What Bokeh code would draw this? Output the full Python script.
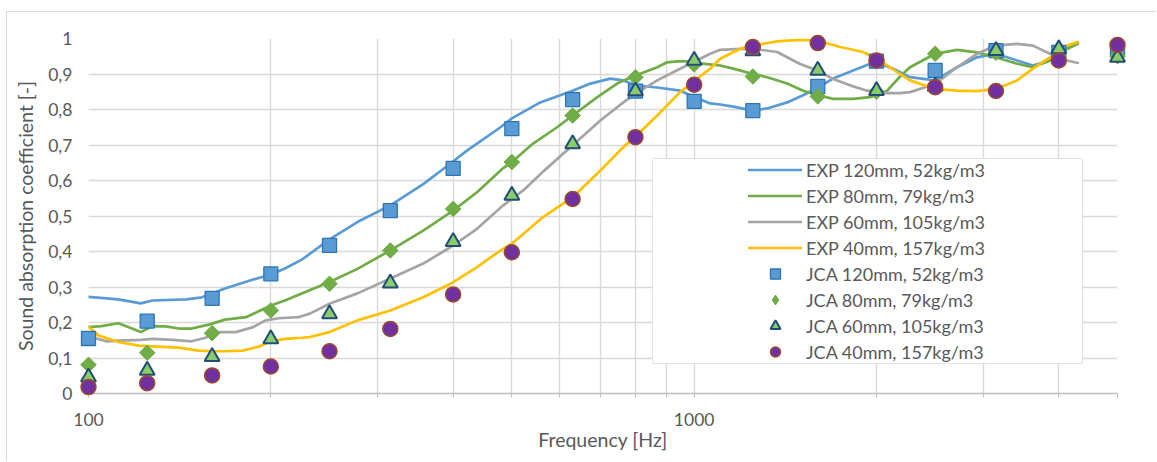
from bokeh.plotting import figure
from bokeh.models import (Range1d, FixedTicker, Legend, LegendItem,
                          BoxAnnotation, Title)
from bokeh.embed import file_html
from bokeh.resources import INLINE

# Third-octave band centres used for the JCA model points
bands = [100, 125, 160, 200, 250, 315, 400, 500, 630, 800, 1000, 1250,
         1600, 2000, 2500, 3150, 4000, 5000]

jca_120 = [0.155, 0.204, 0.268, 0.337, 0.417, 0.515, 0.634, 0.746, 0.828,
           0.852, 0.823, 0.797, 0.865, 0.936, 0.910, 0.966, 0.961, 0.970]
jca_80 = [0.081, 0.115, 0.170, 0.234, 0.309, 0.403, 0.520, 0.652, 0.783,
          0.891, 0.927, 0.893, 0.837, 0.850, 0.957, 0.960, 0.960, 0.950]
jca_60 = [0.046, 0.065, 0.104, 0.154, 0.224, 0.311, 0.428, 0.558, 0.703,
          0.852, 0.938, 0.965, 0.910, 0.853, 0.865, 0.966, 0.971, 0.947]
jca_40 = [0.018, 0.029, 0.051, 0.076, 0.119, 0.182, 0.279, 0.398, 0.548,
          0.722, 0.870, 0.976, 0.987, 0.938, 0.863, 0.852, 0.938, 0.982]

# Measured (impedance tube) curves
exp_120_f = [100, 112, 122, 127.5, 145, 154, 168, 187, 200, 211,
             225, 250, 278, 315, 357, 396, 422, 479, 500, 557,
             630, 674, 727, 764, 800, 869, 948, 1000, 1063, 1104,
             1160, 1250, 1320, 1424, 1513, 1600, 1696, 1830, 1952, 2000,
             2130, 2272, 2500, 2716, 2931, 3150, 3412, 3625, 3868, 4063,
             4300]
exp_120 = [0.272, 0.265, 0.254, 0.262, 0.265, 0.271, 0.296, 0.321, 0.335, 0.352,
           0.377, 0.434, 0.483, 0.530, 0.590, 0.648, 0.685, 0.750, 0.775, 0.820,
           0.853, 0.873, 0.887, 0.882, 0.868, 0.862, 0.853, 0.835, 0.817, 0.814,
           0.808, 0.797, 0.803, 0.820, 0.840, 0.862, 0.887, 0.910, 0.929, 0.933,
           0.915, 0.891, 0.882, 0.919, 0.947, 0.957, 0.938, 0.924, 0.938, 0.966,
           0.990]

exp_80_f = [100, 105, 112, 118, 122, 127.5, 134, 141, 148, 158,
            168, 182, 200, 211, 225, 250, 278, 315, 357, 400,
            438, 484, 500, 542, 594, 630, 692, 746, 800, 869,
            902, 948, 1000, 1023, 1104, 1160, 1250, 1320, 1424, 1513,
            1600, 1696, 1830, 1952, 2000, 2083, 2188, 2272, 2500, 2716,
            2931, 3150, 3412, 3625, 3868, 4126, 4300]
exp_80 = [0.187, 0.190, 0.198, 0.183, 0.173, 0.190, 0.189, 0.183, 0.183, 0.194,
          0.208, 0.215, 0.248, 0.262, 0.282, 0.314, 0.351, 0.403, 0.459, 0.515,
          0.567, 0.635, 0.652, 0.704, 0.750, 0.783, 0.835, 0.873, 0.896, 0.919,
          0.933, 0.936, 0.935, 0.930, 0.924, 0.915, 0.900, 0.891, 0.873, 0.853,
          0.840, 0.830, 0.830, 0.835, 0.840, 0.853, 0.893, 0.919, 0.957, 0.968,
          0.961, 0.947, 0.929, 0.919, 0.938, 0.970, 0.985]

exp_60_f = [100, 103, 107, 112, 122, 127.5, 138, 148, 156, 164,
            175, 187, 196, 206, 222, 232, 250, 278, 315, 357,
            396, 438, 484, 500, 522, 563, 630, 700, 764, 800,
            869, 948, 1010, 1063, 1104, 1191, 1250, 1371, 1424, 1496,
            1600, 1696, 1809, 1930, 2083, 2188, 2272, 2500, 2716, 2931,
            3150, 3412, 3625, 3868, 4126, 4300]
exp_60 = [0.170, 0.155, 0.147, 0.149, 0.151, 0.154, 0.151, 0.147, 0.157, 0.173,
          0.173, 0.187, 0.206, 0.212, 0.215, 0.225, 0.253, 0.282, 0.324, 0.366,
          0.412, 0.464, 0.530, 0.548, 0.572, 0.625, 0.699, 0.769, 0.820, 0.844,
          0.882, 0.915, 0.938, 0.957, 0.968, 0.971, 0.971, 0.962, 0.947, 0.928,
          0.910, 0.886, 0.868, 0.853, 0.846, 0.846, 0.849, 0.872, 0.919, 0.957,
          0.980, 0.985, 0.980, 0.957, 0.938, 0.931]

exp_40_f = [100, 104, 112, 121, 130, 141, 152, 160, 168, 180,
            191, 200, 211, 225, 232, 250, 278, 315, 357, 396,
            438, 479, 500, 563, 630, 700, 764, 800, 869, 948,
            1010, 1063, 1104, 1191, 1250, 1371, 1496, 1600, 1742, 1901,
            2000, 2106, 2188, 2272, 2500, 2716, 2931, 3150, 3412, 3625,
            3868, 4126, 4300]
exp_40 = [0.188, 0.163, 0.145, 0.135, 0.132, 0.129, 0.121, 0.119, 0.119, 0.121,
          0.132, 0.147, 0.154, 0.157, 0.159, 0.173, 0.206, 0.234, 0.271, 0.309,
          0.356, 0.403, 0.422, 0.497, 0.553, 0.628, 0.694, 0.724, 0.783, 0.849,
          0.886, 0.915, 0.943, 0.971, 0.980, 0.992, 0.996, 0.994, 0.976, 0.962,
          0.943, 0.919, 0.900, 0.882, 0.858, 0.853, 0.852, 0.858, 0.882, 0.915,
          0.947, 0.980, 0.990]

series_labels = ["EXP 120mm, 52kg/m3", "EXP 80mm, 79kg/m3",
                 "EXP 60mm, 105kg/m3", "EXP 40mm, 157kg/m3",
                 "JCA 120mm, 52kg/m3", "JCA 80mm, 79kg/m3",
                 "JCA 60mm, 105kg/m3", "JCA 40mm, 157kg/m3"]

y_ticks = [0, 0.1, 0.2, 0.3, 0.4, 0.5, 0.6, 0.7, 0.8, 0.9, 1]
y_tick_labels = ["0", "0,1", "0,2", "0,3", "0,4", "0,5", "0,6", "0,7",
                 "0,8", "0,9", "1"]
x_major = [100, 1000]
x_major_labels = ["100", "1000"]
x_minor = [200, 300, 400, 500, 600, 700, 800, 900, 2000, 3000, 4000, 5000]

FONT = "Lato"
TXT = "#595959"
GRID = "#D9D9D9"
TICK_SIZE = "17.5px"
TITLE_SIZE = "19.5px"

p = figure(width=1150, height=450, x_axis_type="log",
           x_range=Range1d(100, 5000), y_range=Range1d(0, 1),
           output_backend="svg", toolbar_location=None,
           min_border_left=81, min_border_right=40,
           min_border_top=26, min_border_bottom=69)
# chart-area frame: thin light border, offset from the page corner
p.margin = (11, 0, 0, 6)
p.styles = {"border-top": "1px solid #D9D9D9",
            "border-left": "1px solid #D9D9D9"}
p.outline_line_color = None
p.background_fill_color = "white"
p.border_fill_color = "white"

# grid
p.ygrid.ticker = FixedTicker(ticks=y_ticks)
p.ygrid.grid_line_color = GRID
p.ygrid.grid_line_width = 1.4
p.xgrid.ticker = FixedTicker(ticks=x_major, minor_ticks=x_minor)
p.xgrid.grid_line_color = GRID
p.xgrid.grid_line_width = 1.4
p.xgrid.minor_grid_line_color = GRID
p.xgrid.minor_grid_line_width = 1.4

# x axis
xa = p.xaxis[0]
xa.ticker = FixedTicker(ticks=x_major, minor_ticks=x_minor)
xa.major_label_overrides = dict(zip(x_major, x_major_labels))
xa.axis_line_color = "#BFBFBF"
xa.axis_line_width = 1.4
xa.major_tick_in = 0
xa.major_tick_out = 4
xa.minor_tick_in = 0
xa.minor_tick_out = 4
xa.major_tick_line_color = "#BFBFBF"
xa.minor_tick_line_color = "#BFBFBF"
xa.major_label_text_font = FONT
xa.major_label_text_font_size = TICK_SIZE
xa.major_label_text_color = TXT
xa.major_label_standoff = 15

# y axis
ya = p.yaxis[0]
ya.ticker = FixedTicker(ticks=y_ticks)
ya.major_label_overrides = dict(zip(y_ticks, y_tick_labels))
ya.axis_line_color = None
ya.major_tick_line_color = None
ya.minor_tick_line_color = None
ya.major_tick_out = 0
ya.major_label_standoff = 16
ya.major_label_text_font = FONT
ya.major_label_text_font_size = TICK_SIZE
ya.major_label_text_color = TXT
ya.axis_label = "Sound absorption coefficient [-]"
ya.axis_label_text_font = FONT
ya.axis_label_text_font_size = TITLE_SIZE
ya.axis_label_text_font_style = "normal"
ya.axis_label_text_color = TXT
ya.axis_label_standoff = 8

p.add_layout(Title(text="Frequency [Hz]", align="center", offset=-17,
                   text_font=FONT, text_font_size=TITLE_SIZE,
                   text_font_style="normal", text_color=TXT, standoff=-6),
             "below")

# measured curves
line_colors = ["#5B9BD5", "#70AD47", "#A5A5A5", "#FFC000"]
exp_sets = [(exp_120_f, exp_120), (exp_80_f, exp_80),
            (exp_60_f, exp_60), (exp_40_f, exp_40)]
line_rs = []
for (fx, fy), c in zip(exp_sets, line_colors):
    line_rs.append(p.line(fx, fy, line_color=c, line_width=2.7,
                          line_join="round", line_cap="round"))

# model points
r_sq = p.scatter(bands, jca_120, marker="square", size=14,
                 fill_color="#5B9BD5", line_color="#2E75B6", line_width=1.3,
                 level="overlay")
# narrow diamond kept under the rotated squares; it supplies the legend swatch
r_di_key = p.scatter(bands, jca_80, marker="diamond", size=12,
                     fill_color="#70AD47", line_color="#70AD47",
                     level="overlay")
r_di = p.scatter(bands, jca_80, marker="square", angle=0.785398, size=11,
                 fill_color="#70AD47", line_color="#70AD47", line_width=1,
                 level="overlay")
r_tr = p.scatter(bands, jca_60, marker="triangle", size=15,
                 fill_color="#8CCB6A", line_color="#1F4E79", line_width=2,
                 level="overlay")
r_ci = p.scatter(bands, jca_40, marker="circle", size=15,
                 fill_color="#7030A0", line_color="#9C4A2A", line_width=1.5,
                 level="overlay")

# legend box
p.add_layout(BoxAnnotation(left=564, right=994, top=235, bottom=30,
                           left_units="screen", right_units="screen",
                           top_units="screen", bottom_units="screen",
                           fill_color="white", fill_alpha=1,
                           line_color="#A6A6A6", line_width=1))

renderers = line_rs + [r_sq, r_di_key, r_tr, r_ci]
legend = Legend(items=[LegendItem(label=lab, renderers=[r])
                       for lab, r in zip(series_labels, renderers)],
                location=(660, 29), padding=0, spacing=1,
                glyph_width=54, glyph_height=25, label_height=25,
                label_standoff=4, label_text_font=FONT,
                label_text_font_size="18px", label_text_color=TXT,
                background_fill_alpha=0, border_line_color=None)
p.add_layout(legend)

open("out.html", "w").write(file_html(p, INLINE))
